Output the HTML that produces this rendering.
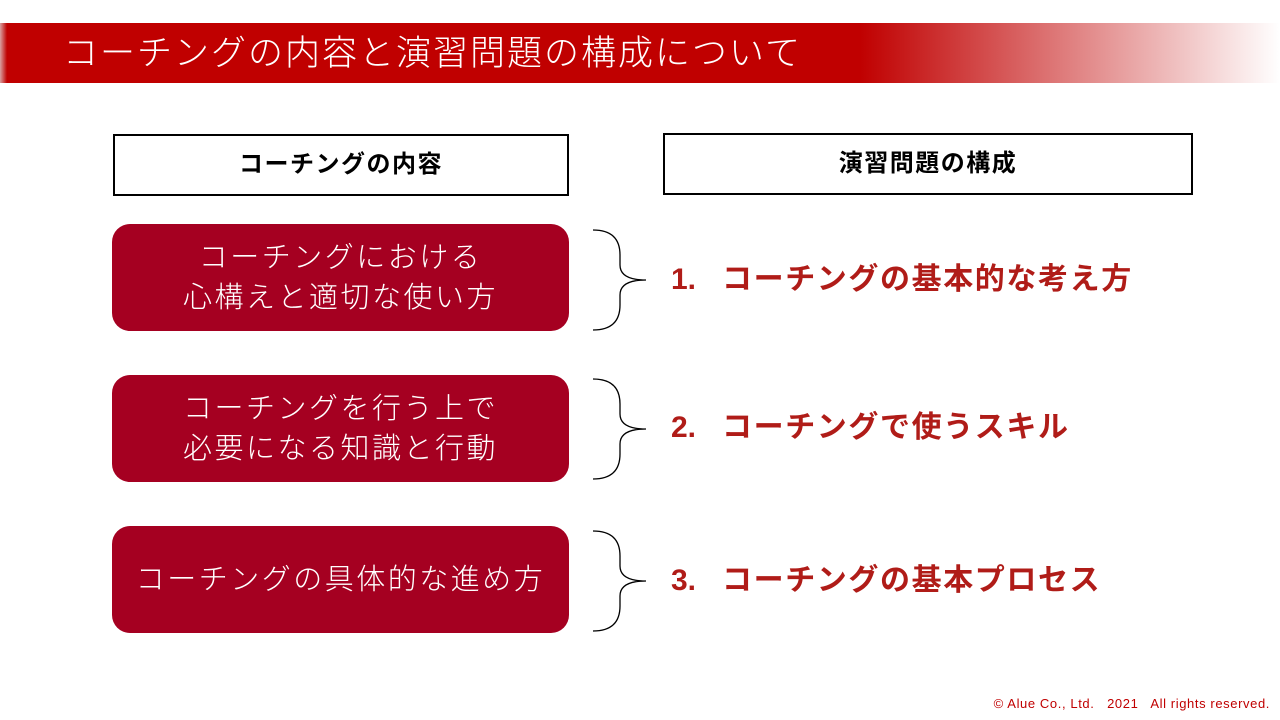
<!DOCTYPE html>
<html><head><meta charset="utf-8"><style>
body{margin:0;width:1280px;height:720px;background:#fff;position:relative;overflow:hidden;font-family:"Liberation Sans","Noto Sans CJK JP",sans-serif}
.bar{position:absolute;left:0;top:23px;width:1280px;height:60px;background:linear-gradient(90deg,#d9a0a0 0px,#c00000 7px,#c00000 860px,#fff 1280px)}
.bar span{position:absolute;left:63px;top:2px;color:#fff;font-size:35px;font-weight:300;letter-spacing:2px;white-space:nowrap}
.hb{position:absolute;border:2px solid #000;box-sizing:border-box;display:flex;align-items:center;justify-content:center;font-weight:bold;font-size:24px;letter-spacing:1.5px;padding-bottom:7px}
.rb{position:absolute;left:112px;width:457px;height:107px;background:#a50021;border-radius:18px;color:#fff;font-size:29px;letter-spacing:2.5px;display:flex;align-items:center;justify-content:center;text-align:center;line-height:40px;font-weight:300}
.t{position:absolute;left:671px;color:#b01c18;font-weight:bold;font-size:30px;letter-spacing:1.6px;white-space:nowrap}
.t b{display:inline-block;width:51px;letter-spacing:0}
svg{position:absolute;left:0;top:0}
.c{position:absolute;right:10px;top:696px;font-size:13px;letter-spacing:0.6px;color:#c00000}
</style></head><body>
<div class="bar"><span>コーチングの内容と演習問題の構成について</span></div>
<div class="hb" style="left:113px;top:134px;width:456px;height:62px">コーチングの内容</div>
<div class="hb" style="left:663px;top:133px;width:530px;height:62px">演習問題の構成</div>
<div class="rb" style="top:224px">コーチングにおける<br>心構えと適切な使い方</div>
<div class="rb" style="top:375px">コーチングを行う上で<br>必要になる知識と行動</div>
<div class="rb" style="top:526px">コーチングの具体的な進め方</div>
<svg width="1280" height="720" fill="none" stroke="#000" stroke-width="1.3">
<path d="M593 230 Q620 230 620 255 L620 265 Q620 280 646 280 Q620 280 620 295 L620 305 Q620 330 593 330"/>
<path d="M593 379 Q620 379 620 404 L620 414 Q620 429 646 429 Q620 429 620 444 L620 454 Q620 479 593 479"/>
<path d="M593 531 Q620 531 620 556 L620 566 Q620 581 646 581 Q620 581 620 596 L620 606 Q620 631 593 631"/>
</svg>
<div class="t" style="top:254px"><b>1.</b>コーチングの基本的な考え方</div>
<div class="t" style="top:402px"><b>2.</b>コーチングで使うスキル</div>
<div class="t" style="top:555px"><b>3.</b>コーチングの基本プロセス</div>
<div class="c">© Alue Co., Ltd.&nbsp;&nbsp; 2021&nbsp;&nbsp; All rights reserved.</div>
</body></html>
